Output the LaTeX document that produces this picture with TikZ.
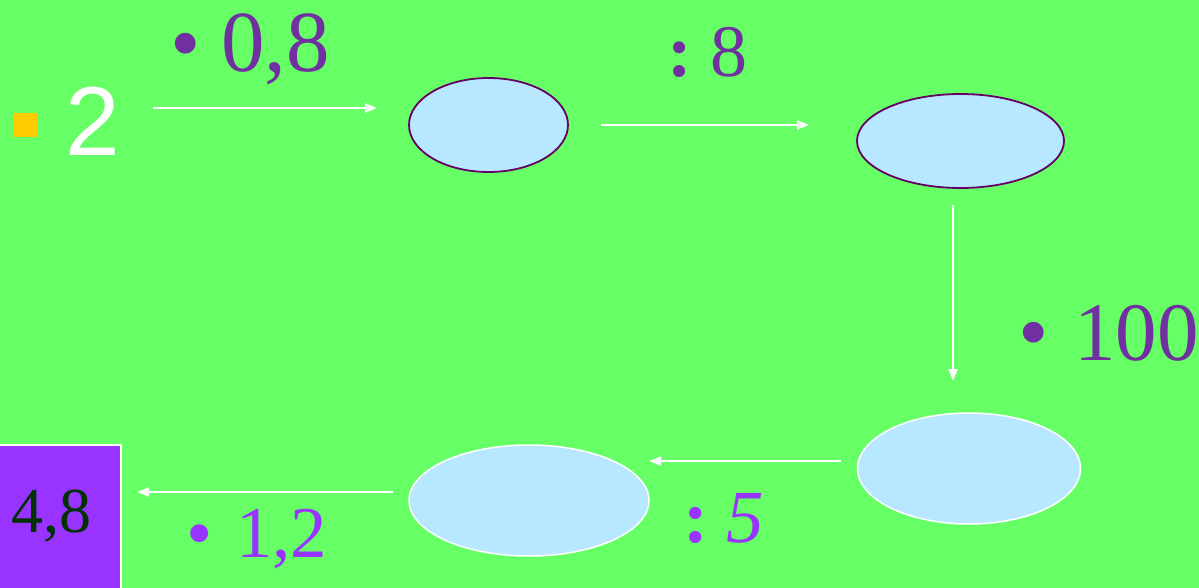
\documentclass[tikz,border=0pt]{standalone}
\usepackage{fontspec}
\setmainfont{Liberation Serif}
\newfontfamily\sansf{Liberation Sans}
\usetikzlibrary{shapes.geometric,arrows.meta}
\definecolor{bg}{HTML}{66FF66}
\definecolor{ell}{HTML}{B8E8FF}
\definecolor{darkpur}{HTML}{660066}
\definecolor{pur}{HTML}{7030A0}
\definecolor{vio}{HTML}{9933FF}
\definecolor{dgreen}{HTML}{003300}
\definecolor{gold}{HTML}{FFCC00}
\tikzset{
  blob/.style={ellipse, fill=ell, line width=1.5pt, inner sep=0pt},
  blobp/.style={blob, draw=darkpur, line width=1.8pt},
  blobw/.style={blob, draw=white},
  flow/.style={draw=white, line width=1.8pt, -{Triangle[length=12pt,width=9pt]}},
  txt/.style={inner sep=0pt, outer sep=0pt, anchor=base west},
  sym/.style={inner sep=0pt, outer sep=0pt, anchor=base},
}
\newcommand{\fsz}[1]{\fontsize{#1}{#1}\selectfont}
\begin{document}
\begin{tikzpicture}[x=1pt,y=-1pt]
\useasboundingbox (0,0) rectangle (1199,588);
\fill[bg] (0,0) rectangle (1199,588);

% bullet square and 2
\fill[gold] (13,113) rectangle (37,137);
\node[txt, text=white, font=\sansf\fsz{98}] (two) at (65,156) {2};

% ellipses
\node[blobp, minimum width=159pt, minimum height=94pt] (e1) at (488.5,125) {};
\node[blobp, minimum width=207pt, minimum height=94pt] (e2) at (960.5,141) {};
\node[blobw, minimum width=223pt, minimum height=111pt] (e3) at (969,468.5) {};
\node[blobw, minimum width=240pt, minimum height=111pt] (e4) at (529,500.5) {};

% result box
\draw[fill=vio, draw=white, line width=1.5pt] (-5,445) rectangle (121,600);
\node[txt, text=dgreen, font=\fsz{64}] (res) at (11,532) {4,8};

% labels
\node[sym, text=pur, font=\fsz{87}] (b1) at (186,73) {•};
\node[txt, text=pur, font=\fsz{87}] (l1) at (221,72) {0,8};

\node[sym, text=pur, font=\bfseries\fsz{74}] (c2) at (679.5,77) {:};
\node[txt, text=pur, font=\fsz{74}] (l2) at (710,77) {8};

\node[sym, text=pur, font=\fsz{87}] (b3) at (1034,361) {•};
\node[txt, text=pur, font=\fsz{83}] (l3) at (1074,360) {100};

\node[sym, text=vio, font=\bfseries\fsz{75}] (c4) at (695.5,542) {:};
\node[txt, text=vio, font=\itshape\fsz{75}] (l4) at (726,542) {5};

\node[sym, text=vio, font=\fsz{75}] (b5) at (200,558) {•};
\node[txt, text=vio, font=\fsz{73}] (l5) at (236,557) {1,2};

% connectors
\coordinate (a1s) at (153,108);
\coordinate (a1e) at (377,108);
\coordinate (a2s) at (601,125);
\coordinate (a2e) at (809,125);
\coordinate (a3s) at (953,205);
\coordinate (a3e) at (953,381);
\coordinate (a4s) at (841,461);
\coordinate (a4e) at (649,461);
\coordinate (a5s) at (393,492);
\coordinate (a5e) at (137,492);
\draw[flow] (a1s) -- (a1e);
\draw[flow] (a2s) -- (a2e);
\draw[flow] (a3s) -- (a3e);
\draw[flow] (a4s) -- (a4e);
\draw[flow] (a5s) -- (a5e);
\end{tikzpicture}
\end{document}
